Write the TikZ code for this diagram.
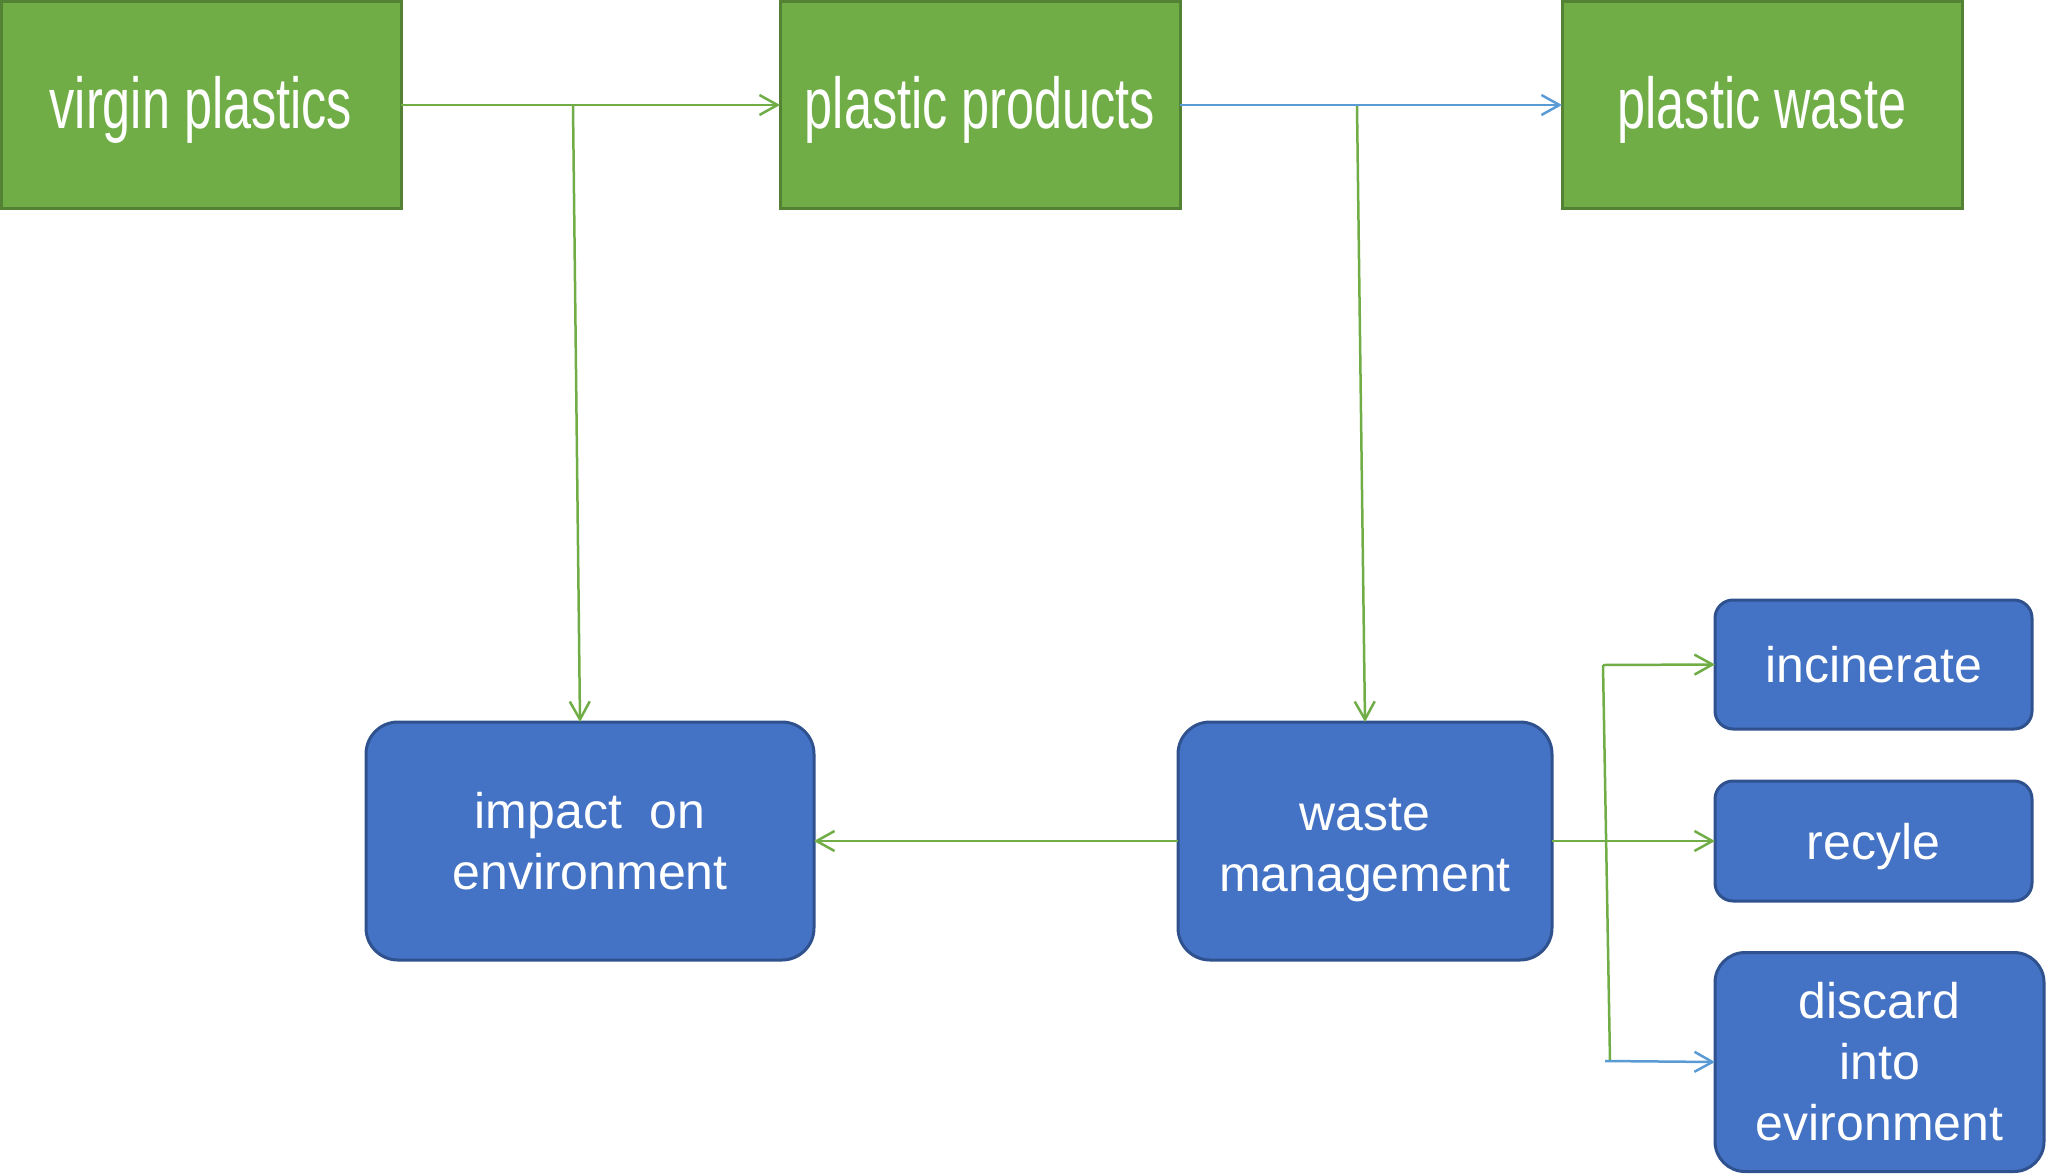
\documentclass[tikz,border=0pt]{standalone}
\usepackage{fontspec}
\setmainfont{Liberation Sans}
\newfontfamily\gfam[FakeStretch=0.7]{Liberation Sans}
\usetikzlibrary{arrows.meta,calc}
\definecolor{cgfill}{HTML}{70AD47}
\definecolor{cgdraw}{HTML}{548235}
\definecolor{cbfill}{HTML}{4472C4}
\definecolor{cbdraw}{HTML}{2F528F}
\definecolor{cgline}{HTML}{70AD47}
\definecolor{cbline}{HTML}{5B9BD5}
\newcommand{\lowered}[2]{\raisebox{-#1}[\height][\depth]{#2}}
\tikzset{
  gbox/.style={draw=cgdraw, fill=cgfill, line width=3pt, minimum width=400pt,
    minimum height=207pt, inner sep=0pt, outer sep=0pt, text=white,
    font=\gfam\fontsize{72}{80}\selectfont},
  bbox/.style={draw=cbdraw, fill=cbfill, line width=3pt, inner sep=0pt, outer sep=0pt,
    text=white, align=center, font=\fontsize{50}{61}\selectfont},
  gconn/.style={draw=cgline, line width=2.5pt},
  bconn/.style={draw=cbline, line width=2.5pt},
  tipgreen/.style={-{Straight Barb[length=18pt,width=20pt,line width=2.5pt]}},
  garr/.style={gconn, tipgreen},
  barr/.style={bconn, tipgreen}
}
\begin{document}
\begin{tikzpicture}[x=1pt,y=-1pt]
\useasboundingbox (0,0) rectangle (2048,1173);
\node[gbox] (vp) at (201,105) {\lowered{5pt}{virgin plastics}};
\node[gbox] (pp) at (980,105) {\lowered{5pt}{plastic products}};
\node[gbox] (pw) at (1762,105) {\lowered{5pt}{plastic waste}};
\node[bbox, minimum width=448pt, minimum height=238pt, rounded corners=32pt] (imp) at (590,841) {impact\ \ on\\environment};
\node[bbox, minimum width=374pt, minimum height=238pt, rounded corners=32pt] (wm) at (1365,841) {\lowered{8pt}{\begin{tabular}{@{}c@{}}waste\\management\end{tabular}}};
\node[bbox, minimum width=317pt, minimum height=129pt, rounded corners=18pt] (inc) at (1873.5,664.5) {incinerate};
\node[bbox, minimum width=317pt, minimum height=120pt, rounded corners=18pt] (rec) at (1873.5,841) {\lowered{6pt}{recyle}};
\node[bbox, minimum width=329pt, minimum height=219pt, rounded corners=30pt] (dis) at (1879.5,1062) {discard\\into\\evironment};
% top connectors
\draw[garr] (vp) -- (pp);
\draw[barr] (pp) -- (pw);
\coordinate (j1) at (573,106);
\draw[garr] (j1) -- ($(imp.north)+(-10,0)$);
\coordinate (j2) at (1357,106);
\draw[garr] (j2) -- (wm.north);
% bottom connectors
\draw[garr] (wm) -- (imp);
\draw[garr] (wm) -- (rec);
\coordinate (b1) at (1603,665);
\coordinate (b2) at (1610,1061);
\coordinate (b3) at (1605,1061);
\draw[gconn] (b1) -- (b2);
\draw[garr] (b1) -- (inc.west);
\draw[barr] (b3) -- (dis.west);
\end{tikzpicture}
\end{document}
